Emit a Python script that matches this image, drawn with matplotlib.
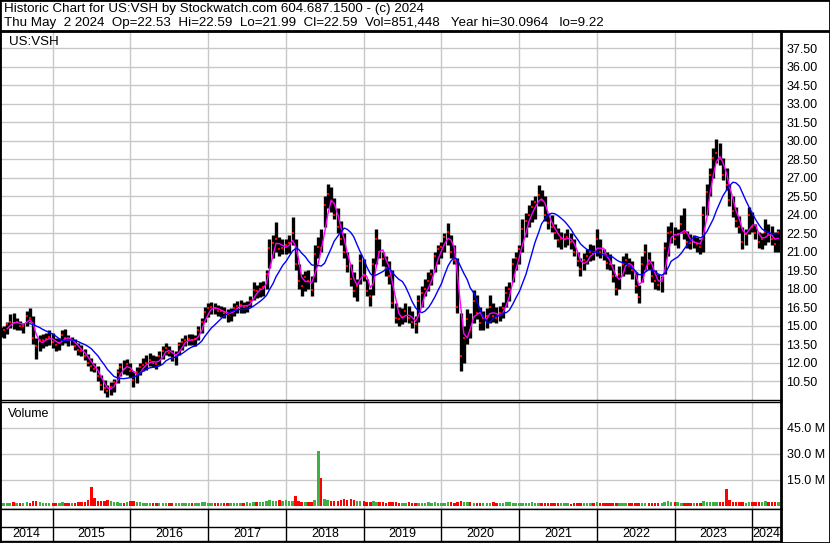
import matplotlib
matplotlib.use('Agg')
import matplotlib.pyplot as plt
import matplotlib.dates as mdates
from matplotlib.lines import Line2D
from matplotlib.patches import Rectangle
import numpy as np
import pandas as pd

plt.rcParams['font.family'] = ['Liberation Sans', 'DejaVu Sans']

# half-monthly bars, May 2014 - May 2024
dates = pd.date_range('2014-05-01', periods=241, freq='SMS')

hi = [14.9, 15.0, 15.3, 15.9, 16.0, 15.6, 15.4, 15.2, 16.2, 16.4, 15.8, 14.0, 14.2, 14.3, 14.4, 14.6, 14.4, 14.0, 14.0, 14.6, 14.7, 14.2, 14.1, 13.9,
      13.6, 13.4, 13.1, 12.7, 12.4, 12.0, 11.7, 11.0, 10.6, 10.2, 10.4, 10.7, 11.5, 12.0, 12.2, 12.3, 12.0, 11.3, 11.6, 12.0, 12.4, 12.6, 12.8, 12.6,
      12.5, 12.9, 13.3, 13.6, 13.3, 13.0, 12.9, 13.7, 14.0, 14.2, 14.3, 14.3, 14.2, 15.0, 15.6, 16.5, 16.8, 16.9, 16.8, 16.7, 16.6, 16.5, 16.3, 16.4,
      16.8, 17.0, 17.1, 16.9, 17.0, 17.4, 18.5, 18.3, 18.5, 18.6, 19.5, 22.0, 22.3, 23.4, 22.2, 22.0, 22.0, 22.3, 23.8, 22.0, 20.0, 19.2, 19.4, 19.5,
      19.0, 21.5, 22.2, 22.8, 25.5, 26.5, 26.2, 25.3, 24.5, 23.5, 22.5, 21.0, 20.0, 19.3, 18.8, 20.8, 20.4, 18.8, 18.0, 20.5, 22.8, 22.0, 21.0, 20.6,
      20.2, 19.5, 16.8, 16.5, 16.4, 16.8, 16.6, 16.2, 15.8, 17.5, 18.2, 18.8, 19.3, 19.6, 21.0, 21.5, 21.8, 22.5, 23.3, 22.3, 21.5, 20.5, 16.0, 15.0,
      16.3, 16.0, 17.9, 17.5, 16.5, 16.2, 16.4, 17.5, 16.8, 16.5, 16.6, 16.9, 18.2, 18.5, 20.5, 21.0, 21.5, 23.6, 24.1, 24.8, 25.2, 25.5, 26.4, 26.0,
      25.5, 24.1, 24.0, 23.2, 22.9, 22.6, 22.5, 22.8, 22.5, 22.0, 21.0, 20.5, 20.9, 21.2, 21.6, 21.5, 22.8, 22.0, 21.2, 21.0, 20.8, 20.0, 19.0, 19.8,
      20.6, 20.9, 20.5, 20.2, 19.3, 18.3, 20.6, 21.6, 21.0, 20.2, 19.5, 19.2, 19.0, 21.8, 23.1, 23.4, 23.0, 22.8, 24.0, 24.5, 22.7, 22.4, 22.3, 22.2,
      22.0, 24.7, 26.5, 27.8, 29.4, 30.1, 29.8, 28.6, 27.8, 26.5, 25.5, 24.6, 23.9, 23.0, 22.8, 24.6, 24.2, 23.2, 22.6, 22.5, 23.6, 23.2, 23.1, 22.6,
      22.8]

lo = [14.1, 14.0, 14.3, 14.8, 14.7, 14.6, 14.6, 14.4, 15.0, 15.3, 13.5, 12.3, 12.9, 13.2, 13.3, 13.4, 13.2, 12.9, 13.0, 13.4, 13.6, 13.3, 13.4, 13.0,
      12.6, 12.5, 12.2, 11.7, 11.3, 11.2, 10.5, 9.8, 9.5, 9.22, 9.4, 9.6, 10.3, 10.9, 11.1, 11.0, 10.8, 10.0, 10.3, 11.0, 11.3, 11.4, 11.7, 11.6,
      11.5, 11.8, 12.3, 12.6, 12.5, 12.1, 11.8, 12.6, 13.0, 13.3, 13.4, 13.4, 13.3, 13.8, 14.4, 15.3, 15.7, 15.9, 15.9, 15.8, 15.7, 15.6, 15.3, 15.4,
      15.8, 16.0, 16.0, 16.0, 16.1, 16.5, 17.1, 17.2, 17.3, 17.4, 18.0, 19.7, 20.5, 21.0, 20.6, 20.8, 20.8, 20.9, 21.5, 19.5, 18.0, 17.4, 17.8, 18.0,
      17.4, 18.5, 20.5, 21.0, 23.0, 24.5, 24.2, 23.6, 22.5, 21.5, 20.5, 19.3, 18.2, 17.3, 17.0, 18.4, 18.6, 17.4, 16.6, 17.5, 20.0, 20.5, 19.8, 19.0,
      18.4, 16.4, 15.2, 15.0, 15.1, 15.3, 15.2, 14.8, 14.4, 15.3, 16.5, 17.4, 17.8, 18.3, 19.3, 20.0, 20.5, 21.0, 21.5, 20.5, 20.0, 16.0, 11.3, 12.0,
      13.5, 14.0, 15.2, 15.5, 14.6, 14.6, 14.8, 15.2, 15.3, 15.2, 15.4, 15.6, 16.5, 17.0, 18.5, 19.5, 20.0, 21.0, 22.2, 23.0, 23.4, 23.6, 24.7, 24.7,
      23.5, 22.8, 22.6, 22.0, 21.4, 21.2, 21.4, 21.5, 21.2, 20.6, 19.8, 19.0, 19.5, 20.0, 20.2, 20.3, 20.6, 20.5, 20.3, 19.6, 19.5, 18.5, 17.5, 18.0,
      19.0, 19.2, 19.2, 18.8, 17.6, 16.8, 18.5, 19.5, 19.6, 18.5, 18.0, 17.9, 17.7, 19.2, 20.6, 21.7, 21.5, 21.3, 22.5, 22.0, 21.3, 21.2, 21.3, 21.0,
      20.8, 21.0, 24.0, 25.5, 27.0, 28.2, 28.0, 26.8, 26.0, 24.7, 23.8, 23.0, 22.5, 21.2, 21.5, 22.4, 22.6, 22.0, 21.3, 21.2, 21.5, 21.8, 21.5, 21.0,
      21.0]

close = [14.5, 14.6, 15.1, 15.3, 15.2, 15.3, 15.0, 15.0, 15.8, 15.6, 14.0, 13.3, 13.8, 13.8, 13.9, 14.1, 13.7, 13.4, 13.6, 14.2, 14.0, 13.8, 13.8, 13.3,
         13.0, 12.9, 12.5, 12.0, 11.7, 11.5, 10.9, 10.2, 9.9, 9.7, 10.0, 10.4, 11.2, 11.6, 11.5, 11.9, 11.3, 10.6, 11.2, 11.6, 11.8, 12.0, 12.2, 12.0,
         11.9, 12.5, 12.9, 13.2, 12.8, 12.4, 12.6, 13.4, 13.7, 13.8, 13.9, 13.8, 13.9, 14.6, 15.3, 16.1, 16.4, 16.5, 16.4, 16.2, 16.2, 16.0, 15.9, 16.1,
         16.4, 16.6, 16.7, 16.5, 16.6, 17.0, 17.9, 17.8, 18.0, 18.1, 19.2, 21.3, 21.7, 22.0, 21.2, 21.3, 21.5, 21.7, 22.5, 20.0, 18.6, 18.2, 18.9, 18.6,
         17.9, 20.8, 21.4, 21.3, 24.8, 25.7, 25.0, 24.0, 23.0, 22.0, 21.0, 19.8, 18.8, 17.8, 18.2, 20.2, 19.0, 17.8, 17.4, 20.0, 22.0, 21.0, 20.4, 19.7,
         19.0, 16.8, 15.6, 15.5, 15.7, 16.2, 15.6, 15.3, 15.1, 17.0, 17.6, 18.0, 18.6, 19.2, 20.6, 21.2, 21.4, 22.2, 22.6, 21.0, 20.3, 16.5, 12.5, 14.0,
         15.5, 14.6, 17.0, 16.0, 15.2, 15.6, 15.8, 16.5, 15.8, 15.6, 16.0, 16.4, 17.6, 18.0, 20.0, 20.5, 21.2, 22.8, 23.5, 24.0, 24.6, 25.0, 25.6, 25.2,
         24.0, 23.3, 23.0, 22.5, 21.9, 22.0, 22.0, 22.2, 21.8, 21.0, 20.2, 19.6, 20.3, 20.6, 21.0, 20.8, 22.0, 21.0, 20.8, 20.1, 20.0, 19.0, 18.0, 19.2,
         20.0, 20.3, 19.8, 19.5, 18.2, 17.3, 20.0, 21.0, 20.0, 19.0, 18.6, 18.3, 18.8, 21.3, 22.5, 22.6, 22.0, 22.4, 23.2, 22.5, 21.8, 21.7, 21.8, 21.6,
         21.4, 24.0, 25.8, 27.2, 28.6, 29.0, 28.5, 27.2, 26.4, 25.2, 24.3, 23.5, 23.0, 21.8, 22.4, 24.0, 23.0, 22.5, 21.8, 22.0, 22.6, 22.4, 22.0, 21.6,
         22.59]

# volume in millions
vol = [1.6, 1.4, 1.8, 1.5, 1.9, 1.7, 1.5, 1.6, 2.2, 1.8, 2.8, 3.0, 2.0, 1.7, 1.5, 1.8, 1.6, 1.4, 1.7, 1.9, 1.6, 1.5, 1.8, 1.7,
       1.9, 2.1, 2.4, 3.5, 11.1, 4.2, 3.0, 2.6, 2.9, 3.2, 2.5, 2.2, 2.0, 1.8, 1.7, 2.4, 2.9, 2.6, 2.2, 1.9, 1.7, 1.6, 1.8, 1.5,
       1.6, 1.5, 1.7, 1.8, 1.6, 1.4, 1.5, 1.7, 1.6, 1.5, 1.4, 1.6, 1.3, 1.8, 2.0, 1.9, 1.7, 1.5, 1.6, 1.4, 1.5, 1.7, 1.6, 1.5,
       1.4, 1.6, 1.5, 1.7, 1.9, 1.8, 2.4, 2.0, 1.9, 2.2, 2.6, 3.3, 3.0, 2.8, 3.1, 2.9, 3.2, 2.7, 2.5, 5.4, 3.0, 2.4, 2.2, 2.0,
       2.3, 3.5, 31.7, 16.0, 4.0, 3.2, 2.9, 2.6, 3.0, 3.4, 3.8, 3.5, 3.6, 3.3, 2.9, 2.6, 3.0, 2.4, 2.2, 2.5, 2.1, 1.9, 2.0, 1.8,
       1.9, 2.2, 2.0, 1.8, 1.7, 1.6, 1.9, 1.7, 1.5, 1.8, 1.6, 1.7, 1.9, 1.8, 2.0, 1.7, 1.6, 1.8, 1.9, 2.0, 1.8, 2.3, 2.6, 2.4,
       2.1, 1.9, 1.8, 1.6, 1.7, 1.5, 1.6, 1.7, 1.9, 1.8, 1.6, 1.7, 1.9, 2.0, 1.8, 1.7, 1.6, 1.5, 1.8, 1.7, 1.9, 1.6, 1.5, 1.4,
       1.5, 1.4, 1.6, 1.3, 1.4, 1.5, 1.3, 1.4, 1.2, 1.5, 1.6, 1.4, 1.3, 1.5, 1.4, 1.6, 2.1, 1.7, 1.5, 1.4, 1.3, 1.5, 1.6, 1.4,
       1.5, 1.3, 1.4, 1.6, 1.5, 1.7, 1.4, 1.6, 1.5, 1.3, 1.4, 1.5, 1.6, 2.0, 2.6, 2.2, 1.9, 2.4, 1.8, 1.7, 1.6, 1.5, 1.7, 1.6,
       1.8, 2.6, 2.2, 2.0, 2.3, 1.9, 2.0, 2.2, 9.8, 3.1, 2.4, 2.0, 1.9, 2.1, 1.8, 2.2, 2.4, 2.0, 1.9, 2.3, 2.5, 2.1, 2.0, 2.4,
       2.2]

price_ticks = [10.5, 12.0, 13.5, 15.0, 16.5, 18.0, 19.5, 21.0, 22.5, 24.0, 25.5, 27.0, 28.5, 30.0, 31.5, 33.0, 34.5, 36.0, 37.5]
vol_ticks = [15, 30, 45]
years = list(range(2014, 2025))

header1 = 'Historic Chart for US:VSH by Stockwatch.com 604.687.1500 - (c) 2024'
header2 = ('Thu May  2 2024  Op=22.53  Hi=22.59  Lo=21.99  Cl=22.59  '
           'Vol=851,448   Year hi=30.0964   lo=9.22')

W, H = 830, 543
x = mdates.date2num(dates)
cl = pd.Series(close)
ma_fast = cl.rolling(3).mean()
ma_slow = cl.rolling(10).mean()
vcol = ['#3cb043' if i == 0 or close[i] >= close[i - 1] else '#ff0000' for i in range(len(close))]

x0 = mdates.date2num(pd.Timestamp('2014-04-28'))
x1 = mdates.date2num(pd.Timestamp('2024-05-14'))
ybounds = [mdates.date2num(pd.Timestamp(f'{y}-01-01')) for y in years[1:]]

fig = plt.figure(figsize=(W / 100, H / 100), dpi=100)
grid_c = '#c8c8c8'
fs = 9
hfs = 9.6


def px_axes(left, top, right, bottom):
    return fig.add_axes([left / W, 1 - bottom / H, (right - left) / W, (bottom - top) / H])


# price panel
ax = px_axes(0, 31, 781, 400)
ax.vlines(x, lo, hi, color='black', lw=2.4, zorder=2)
ax.scatter(x, close, marker='s', s=2.5, color='red', lw=0, zorder=3)
ax.plot(x, ma_fast, color='#ff00ff', lw=1.0, zorder=4)
ax.plot(x, ma_slow, color='#0000ff', lw=1.0, zorder=4)
ax.set_xlim(x0, x1)
ax.set_ylim(8.96, 38.88)
ax.set_xticks(ybounds)
ax.set_yticks(price_ticks)
ax.set_yticklabels([f'{t:.2f}' for t in price_ticks])
ax.yaxis.tick_right()
ax.tick_params(length=0, labelbottom=False, labelsize=fs, pad=4)
ax.grid(True, color=grid_c, lw=1)
ax.set_axisbelow(True)
ax.text(9 / 781, 1 - 11 / 369, 'US:VSH', transform=ax.transAxes, fontsize=hfs, va='center', ha='left')

# volume panel
av = px_axes(0, 402, 781, 509)
av.bar(x, vol, width=12, color=vcol, lw=0, zorder=2)
av.set_xlim(x0, x1)
av.set_ylim(-1.9, 60)
av.set_xticks(ybounds)
av.set_yticks(vol_ticks)
av.set_yticklabels([f'{t:.1f} M' for t in vol_ticks])
av.yaxis.tick_right()
av.tick_params(length=0, labelbottom=False, labelsize=fs, pad=4)
av.grid(True, color=grid_c, lw=1)
av.set_axisbelow(True)
av.text(8 / 781, 1 - 12 / 107, 'Volume', transform=av.transAxes, fontsize=fs, va='center', ha='left')

# year strip
ay = px_axes(0, 509, 781, 541)
ay.set_xlim(x0, x1)
ay.set_ylim(0, 32)
ay.set_xticks([])
ay.set_yticks([])
ay.axhline(14, color='black', lw=1)
for b in ybounds:
    ay.axvline(b, color='black', lw=1)
edges = [x0] + ybounds + [x1]
for i, yr in enumerate(years):
    ay.text((edges[i] + edges[i + 1]) / 2, 7, str(yr), ha='center', va='center', fontsize=fs)

for a in (ax, av, ay):
    for s in a.spines.values():
        s.set_color('black')
        s.set_linewidth(1)
    a.spines['right'].set_linewidth(2)

# header
fig.text(4 / W, 1 - 9 / H, header1, fontsize=hfs, va='center', ha='left')
fig.text(4 / W, 1 - 23 / H, header2, fontsize=hfs, va='center', ha='left')
fig.add_artist(Line2D([0, 1], [1 - 31 / H, 1 - 31 / H], color='black', lw=2))
fig.add_artist(Rectangle((0, 0), 1, 1, transform=fig.transFigure, fill=False, edgecolor='black', lw=2))

fig.savefig('out.png', dpi=100)
